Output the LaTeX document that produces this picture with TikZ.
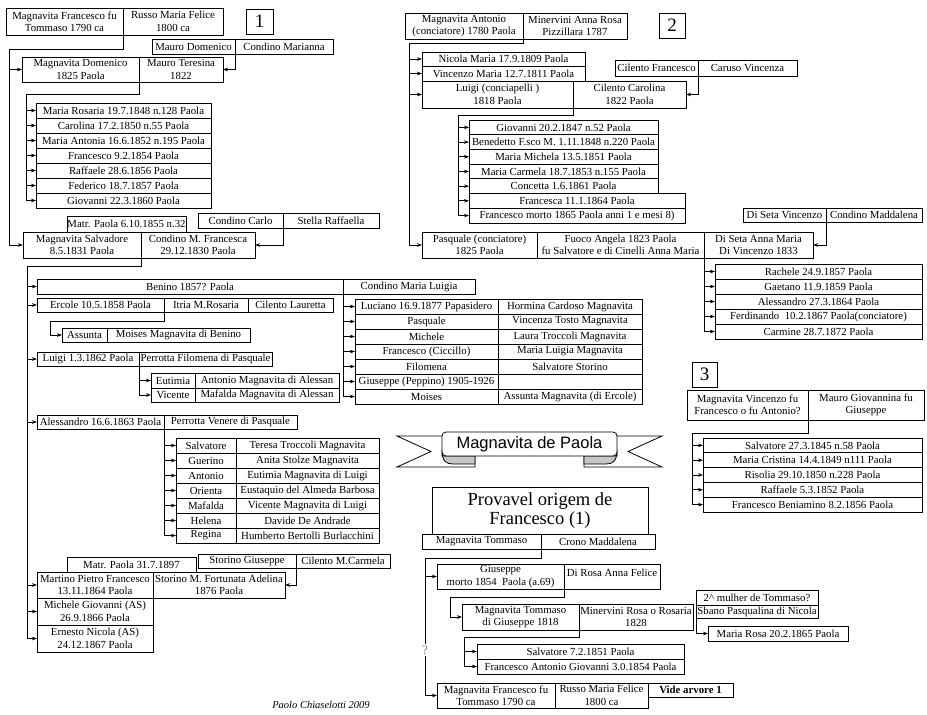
\documentclass[tikz,border=0pt]{standalone}
\usepackage{fontspec}
\setmainfont{Liberation Serif}
\newfontfamily\sansf{Liberation Sans}
\usetikzlibrary{arrows.meta,calc}
\newcommand\bx[6]{\node[cell, minimum width={(#4-#2)*1pt}, minimum height={(#5-#3)*1pt}] (#1) at ({(#2+#4)/2},{(#3+#5)/2}) {#6};}
\begin{document}
\begin{tikzpicture}[x=1pt,y=-1pt,
  cell/.style={draw, line width=0.8pt, inner sep=0pt, outer sep=0pt, align=center, font=\fontsize{10.8}{12.5}\selectfont},
  conn/.style={line width=0.8pt},
  arr/.style={line width=0.8pt,-{Stealth[length=5pt,width=3.6pt]}},
  numf/.style={font=\fontsize{19}{19}\selectfont},
]
\useasboundingbox[fill=white] (0,0) rectangle (927,715);

% ---------------- Section 1 ----------------
\bx{t1L}{6}{8}{123}{35}{Magnavita Francesco fu\\Tommaso 1790 ca}
\bx{t1R}{123}{8}{223}{35}{Russo Maria Felice\\1800 ca}
\bx{n1}{246}{9}{273}{34}{\fontsize{19}{19}\selectfont 1}
\bx{mdL}{152}{39}{235}{54}{Mauro Domenico}
\bx{mdR}{235}{39}{333}{54}{Condino Marianna}
\bx{domL}{22}{57}{139}{82}{Magnavita Domenico\\1825 Paola}
\bx{domR}{139}{57}{223}{82}{Mauro Teresina\\1822}
\foreach \i/\t in {1/{Maria Rosaria 19.7.1848 n.128 Paola},2/{Carolina 17.2.1850 n.55 Paola},3/{Maria Antonia 16.6.1852 n.195 Paola},4/{Francesco 9.2.1854 Paola},5/{Raffaele 28.6.1856 Paola},6/{Federico 18.7.1857 Paola},7/{Giovanni 22.3.1860 Paola}}{
  \pgfmathsetmacro\yt{103+15*(\i-1)}
  \bx{c\i}{36}{\yt}{211}{\yt+15}{\t}
}
\bx{matrA}{67}{216}{186}{232}{Matr. Paola 6.10.1855 n.32}
\bx{ccL}{198}{213}{283}{228}{Condino Carlo}
\bx{ccR}{283}{213}{379}{228}{Stella Raffaella}
\bx{salvL}{23}{232}{141}{258}{Magnavita Salvadore\\8.5.1831 Paola}
\bx{salvR}{141}{232}{255}{258}{Condino M. Francesca\\29.12.1830 Paola}

\bx{benL}{37}{279}{343}{294}{Benino 1857? Paola}
\bx{benR}{343}{279}{475}{294}{Condino Maria Luigia}
\foreach \i/\l/\r in {1/{Luciano 16.9.1877 Papasidero}/{Hormina Cardoso Magnavita},2/{Pasquale}/{Vincenza Tosto Magnavita},3/{Michele}/{Laura Troccoli Magnavita},4/{Francesco (Ciccillo)}/{Maria Luigia Magnavita},5/{Filomena}/{Salvatore Storino},6/{Giuseppe (Peppino) 1905-1926}/{},7/{Moises}/{Assunta Magnavita (di Ercole)}}{
  \pgfmathsetmacro\yt{299+15*(\i-1)}
  \bx{bL\i}{355}{\yt}{498}{\yt+15}{\l}
  \bx{bR\i}{498}{\yt}{642}{\yt+15}{\r}
}
\bx{ercA}{37}{298}{164}{312}{Ercole 10.5.1858 Paola}
\bx{ercB}{164}{298}{248}{312}{Itria M.Rosaria}
\bx{ercC}{248}{298}{333}{312}{Cilento Lauretta}
\bx{assL}{62}{328}{107}{342}{Assunta}
\bx{assR}{107}{328}{250}{342}{Moises Magnavita di Benino}
\bx{luiL}{37}{352}{139}{366}{Luigi 1.3.1862 Paola}
\bx{luiR}{139}{352}{272}{366}{Perrotta Filomena di Pasquale}
\bx{eutL}{151}{373}{195}{388}{Eutimia}
\bx{eutR}{195}{373}{339}{388}{Antonio Magnavita di Alessan}
\bx{vicL}{151}{388}{195}{402}{Vicente}
\bx{vicR}{195}{388}{339}{402}{Mafalda Magnavita di Alessan}
\bx{aleL}{37}{415}{164}{429}{Alessandro 16.6.1863 Paola}
\bx{aleR}{164}{415}{297}{429}{Perrotta Venere di Pasquale}
\foreach \i/\l/\r in {1/Salvatore/{Teresa Troccoli Magnavita},2/Guerino/{Anita Stolze Magnavita},3/Antonio/{Eutimia Magnavita di Luigi},4/Orienta/{Eustaquio del Almeda Barbosa},5/Mafalda/{Vicente Magnavita di Luigi},6/Helena/{Davide De Andrade},7/Regina/{Humberto Bertolli Burlacchini}}{
  \pgfmathsetmacro\yt{438+15*(\i-1)}
  \bx{aL\i}{176}{\yt}{236}{\yt+15}{\l}
  \bx{aR\i}{236}{\yt}{379}{\yt+15}{\r}
}
\bx{matrB}{67}{557}{196}{572}{Matr. Paola 31.7.1897}
\bx{sgL}{198}{554}{296}{568}{Storino Giuseppe}
\bx{sgR}{296}{554}{390}{568}{Cilento M.Carmela}
\bx{marL}{37}{572}{153}{598}{Martino Pietro Francesco\\13.11.1864 Paola}
\bx{marR}{153}{572}{285}{598}{Storino M. Fortunata Adelina\\1876 Paola}
\bx{mic}{37}{598}{153}{625}{Michele Giovanni (AS)\\26.9.1866 Paola}
\bx{ern}{37}{625}{153}{652}{Ernesto Nicola (AS)\\24.12.1867 Paola}
\node[font=\itshape\fontsize{10.5}{10.5}\selectfont] (sig) at (321,705) {Paolo Chiaselotti 2009};

% connectors section 1
\draw[conn] (t1L.south east) |- (9,49) -- (9,0 |- salvL.west);
\draw[arr] (9,0 |- domL.west) -- (domL.west);
\draw[arr] (9,0 |- salvL.west) -- (salvL.west);
\draw[arr] (mdL.south east) |- (domR.east);
\draw[conn] (domL.south east) |- (26,94) -- (26,0 |- c7.west);
\foreach \i in {1,...,7} \draw[arr] (26,0 |- c\i.west) -- (c\i.west);
\draw[arr] (ccL.south east) |- (salvR.east);
\draw[conn] (salvL.south east) |- (27,266) -- (27,0 |- ern.west);
\foreach \n in {benL,ercA,luiL,aleL,marL,mic,ern} \draw[arr] (27,0 |- \n.west) -- (\n.west);
\draw[conn] (benL.south east) -- (benL.south east |- bL7.west);
\foreach \i in {1,...,7} \draw[arr] (benL.south east |- bL\i.west) -- (bL\i.west);
\draw[arr] (ercA.south east) |- (50,321) |- (assL.west);
\draw[conn] (luiL.south east) -- (luiL.south east |- vicL.west);
\draw[arr] (luiL.south east |- eutL.west) -- (eutL.west);
\draw[arr] (luiL.south east |- vicL.west) -- (vicL.west);
\draw[conn] (aleL.south east) -- (aleL.south east |- aL7.west);
\foreach \i in {1,...,7} \draw[arr] (aleL.south east |- aL\i.west) -- (aL\i.west);
\draw[arr] (sgL.south east) |- (marR.east);

% ---------------- Section 2 ----------------
\bx{aL}{405}{13}{523}{39}{Magnavita Antonio\\(conciatore) 1780 Paola}
\bx{aR}{523}{13}{627}{39}{Minervini Anna Rosa\\Pizzillara 1787}
\bx{n2}{659}{13}{685}{38}{\fontsize{19}{19}\selectfont 2}
\bx{nic}{422}{52}{585}{66}{Nicola Maria 17.9.1809 Paola}
\bx{vin}{422}{66}{585}{81}{Vincenzo Maria 12.7.1811 Paola}
\bx{lgL}{422}{81}{573}{108}{Luigi (conciapelli )\\1818 Paola}
\bx{lgR}{573}{81}{686}{108}{Cilento Carolina\\1822 Paola}
\bx{cfL}{615}{60}{698}{76}{Cilento Francesco}
\bx{cfR}{698}{60}{797}{76}{Caruso Vincenza}
\foreach \i/\r/\t in {1/658/{Giovanni 20.2.1847 n.52 Paola},2/658/{Benedetto F.sco M. 1.11.1848 n.220 Paola},3/658/{Maria Michela 13.5.1851 Paola},4/658/{Maria Carmela 18.7.1853 n.155 Paola},5/658/{Concetta 1.6.1861 Paola},6/685/{Francesca 11.1.1864 Paola},7/685/{Francesco morto 1865 Paola anni 1 e mesi 8)}}{
  \pgfmathsetmacro\yt{120+14.7*(\i-1)}
  \bx{g\i}{469}{\yt}{\r}{\yt+14.7}{\t}
}
\bx{pqL}{422}{232}{537}{258}{Pasquale (conciatore)\\1825 Paola}
\bx{pqM}{537}{232}{704}{258}{Fuoco Angela 1823 Paola\\fu Salvatore e di Cinelli Anna Maria}
\bx{pqR}{704}{232}{813}{258}{Di Seta Anna Maria\\Di Vincenzo 1833}
\bx{dsL}{743}{208}{826}{222}{Di Seta Vincenzo}
\bx{dsR}{826}{208}{922}{222}{Condino Maddalena}
\foreach \i/\t in {1/{Rachele 24.9.1857 Paola},2/{Gaetano 11.9.1859 Paola},3/{Alessandro 27.3.1864 Paola},4/{Ferdinando\ \ 10.2.1867 Paola(conciatore)},5/{Carmine 28.7.1872 Paola}}{
  \pgfmathsetmacro\yt{264+15*(\i-1)}
  \bx{p\i}{715}{\yt}{922}{\yt+15}{\t}
}
\draw[conn] (aL.south east) |- (409,43) -- (409,0 |- pqL.west);
\foreach \n in {nic,vin,lgL,pqL} \draw[arr] (409,0 |- \n.west) -- (\n.west);
\draw[arr] (cfL.south east) |- (lgR.east);
\draw[conn] (lgL.south east) |- (458,115) -- (458,0 |- g7.west);
\foreach \i in {1,...,7} \draw[arr] (458,0 |- g\i.west) -- (g\i.west);
\draw[arr] (dsL.south east) |- (pqR.east);
\draw[conn] (pqM.south east) -- (pqM.south east |- p5.west);
\foreach \i in {1,...,5} \draw[arr] (pqM.south east |- p\i.west) -- (p\i.west);

% ---------------- Section 3 ----------------
\bx{n3}{692}{362}{717}{387}{\fontsize{19}{19}\selectfont 3}
\bx{vzL}{687}{390}{808}{420}{Magnavita Vincenzo fu\\Francesco o fu Antonio?}
\bx{vzR}{808}{390}{924}{420}{Mauro Giovannina fu\\Giuseppe}
\foreach \i/\t in {1/{Salvatore 27.3.1845 n.58 Paola},2/{Maria Cristina 14.4.1849 n111 Paola},3/{Risolia 29.10.1850 n.228 Paola},4/{Raffaele 5.3.1852 Paola},5/{Francesco Beniamino 8.2.1856 Paola}}{
  \pgfmathsetmacro\yt{438+14.8*(\i-1)}
  \bx{s\i}{703}{\yt}{922}{\yt+14.8}{\t}
}
\draw[conn] (vzL.south east) |- (692,433) -- (692,0 |- s5.west);
\foreach \i in {1,...,5} \draw[arr] (692,0 |- s\i.west) -- (s\i.west);

% ---------------- Banner ----------------
\begin{scope}[line width=0.8pt]
\draw (442,436) -- (397,436) -- (431,451.5) -- (397,467) -- (475,467) -- (475,456);
\draw (617,436) -- (662,436) -- (628,451.5) -- (662,467) -- (584,467) -- (584,456);
\filldraw[fill=gray!45] (442,450) .. controls (442,461) and (446,464) .. (453,464) -- (475,464) -- (475,456) -- (442,456) -- cycle;
\filldraw[fill=gray!45] (617,450) .. controls (617,461) and (613,464) .. (606,464) -- (584,464) -- (584,456) -- (617,456) -- cycle;
\filldraw[fill=white, rounded corners=4pt] (442,432) rectangle (617,456);
\end{scope}
\node[font=\sansf\fontsize{16.5}{16.5}\selectfont] (banner) at (529.5,444.5) {Magnavita de Paola};

% ---------------- Provavel origem ----------------
\draw[conn] (432,534) -- (432,487) -- (648,487) -- (648,534);
\node[font=\fontsize{18.5}{19}\selectfont, align=center] (prov) at (540,511) {Provavel origem de\\Francesco (1)};
\bx{tmL}{422}{534}{541}{549}{Magnavita Tommaso}
\bx{tmR}{541}{534}{655}{549}{Crono Maddalena}
\bx{gpL}{437}{564}{564}{589}{Giuseppe\\morto 1854\ \ Paola (a.69)}
\bx{gpR}{564}{564}{660}{589}{}
\node[font=\fontsize{10.8}{12.5}\selectfont] (gpRt) at (612,573) {Di Rosa Anna Felice};
\bx{tgL}{462}{604}{579}{630}{Magnavita Tommaso\\di Giuseppe 1818}
\bx{tgR}{579}{604}{693}{630}{Minervini Rosa o Rosaria\\1828}
\bx{mwA}{696}{590}{818}{605}{2\textasciicircum{} mulher de Tommaso?}
\bx{mwB}{696}{605}{818}{618}{Sbano Pasqualina di Nicola}
\bx{mr}{708}{626}{848}{641}{Maria Rosa 20.2.1865 Paola}
\bx{sv1}{477}{644}{684}{659}{Salvatore 7.2.1851 Paola}
\bx{sv2}{477}{659}{684}{674}{Francesco Antonio Giovanni 3.0.1854 Paola}
\bx{fL}{437}{683}{555}{708}{Magnavita Francesco fu\\Tommaso 1790 ca}
\bx{fR}{555}{683}{648}{708}{Russo Maria Felice\\1800 ca}
\bx{vide}{648}{683}{733}{697}{\textbf{Vide arvore 1}}
\node[text=gray, inner sep=1pt, font=\fontsize{13}{13}\selectfont] (q) at (425,650) {?};
\draw[conn] (tmL.south east) |- (425,558) -- (q.north);
\draw[conn] (q.south) -- (425,0 |- fL.west);
\draw[arr] (425,0 |- gpL.west) -- (gpL.west);
\draw[arr] (425,0 |- fL.west) -- (fL.west);
\draw[arr] (gpL.south east) |- (450,597) |- (tgL.west);
\draw[arr] (mwB.south west) |- (mr.west);
\draw[conn] (tgL.south east) |- (464,637) -- (464,0 |- sv2.west);
\draw[arr] (464,0 |- sv1.west) -- (sv1.west);
\draw[arr] (464,0 |- sv2.west) -- (sv2.west);
\end{tikzpicture}
\end{document}
